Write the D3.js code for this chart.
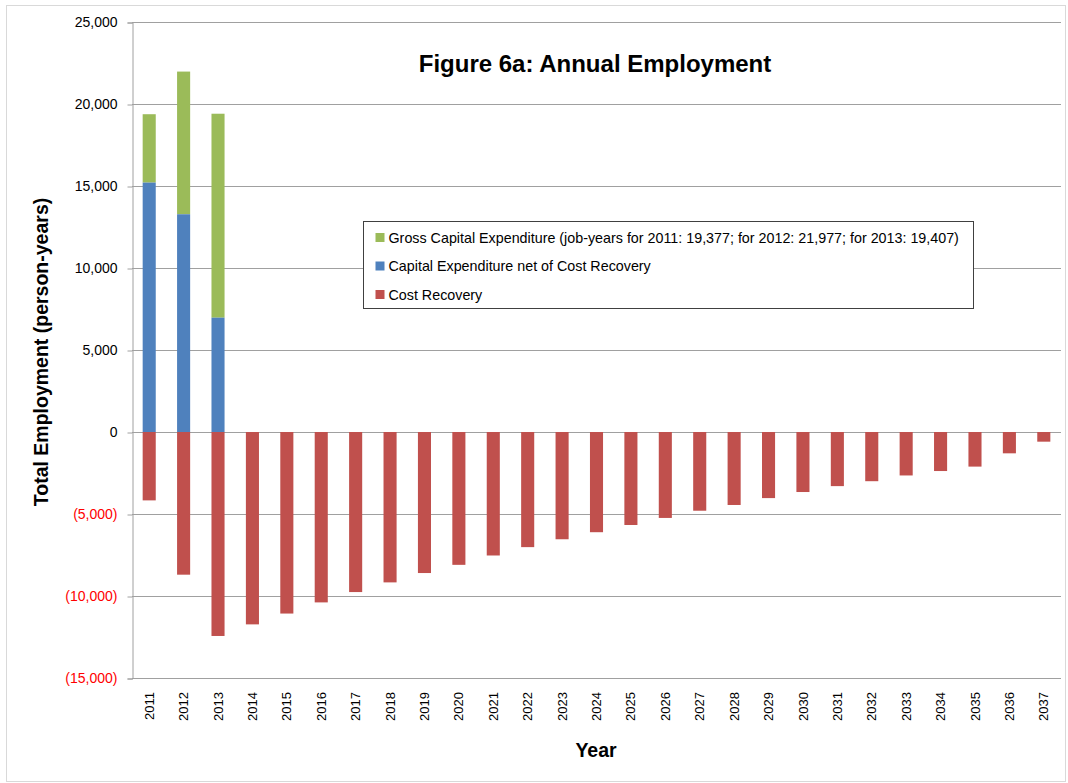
<!DOCTYPE html>
<html>
<head>
<meta charset="utf-8">
<script src="https://cdn.jsdelivr.net/npm/d3@7"></script>
<style>
  body { margin: 0; background: #fff; }
  svg { display: block; font-family: "Liberation Sans", Arial, sans-serif; }
</style>
</head>
<body>
<svg id="chart" width="1068" height="783"></svg>
<script>
// years on the x axis
const years = d3.range(2011, 2038).map(String);

// gross capital expenditure (only first three years)
const grossCapex = [19377, 21977, 19407];
// capital expenditure net of cost recovery
const netCapex = [15207, 13277, 6970];
// cost recovery (negative, all years)
const costRecovery = [
  -4170, -8700, -12437, -11730, -11070, -10390, -9760, -9170, -8600, -8100,
  -7530, -7020, -6540, -6110, -5670, -5240, -4800, -4450, -4030, -3660,
  -3300, -3000, -2650, -2380, -2110, -1300, -590
];

const yTicks = [25000, 20000, 15000, 10000, 5000, 0, -5000, -10000, -15000];

const legendItems = [
  { label: "Gross Capital Expenditure (job-years for 2011: 19,377; for 2012: 21,977; for 2013: 19,407)", color: "#9BBB59" },
  { label: "Capital Expenditure net of Cost Recovery", color: "#4F81BD" },
  { label: "Cost Recovery", color: "#C0504D" }
];

const svg = d3.select("#chart");
const margin = { top: 22, right: 7, bottom: 105, left: 132 };
const width = 1068, height = 783;

// outer frame
svg.append("rect")
  .attr("x", 6.5).attr("y", 5.5)
  .attr("width", 1059).attr("height", 776)
  .attr("fill", "#fff")
  .attr("stroke", "#d9d9d9");

const x = d3.scaleBand()
  .domain(years)
  .range([margin.left, width - margin.right])
  .paddingInner(0.62)
  .paddingOuter(0.31);

const y = d3.scaleLinear()
  .domain([-15000, 25000])
  .range([height - margin.bottom, margin.top]);

// gridlines
svg.append("g")
  .selectAll("line")
  .data(yTicks)
  .join("line")
  .attr("x1", margin.left)
  .attr("x2", width - margin.right)
  .attr("y1", d => Math.round(y(d)) + 0.5)
  .attr("y2", d => Math.round(y(d)) + 0.5)
  .attr("stroke", "#a0a0a0");

// y axis
const fmt = d => d < 0 ? `(${d3.format(",")(-d)})` : d3.format(",")(d);
const yAxis = svg.append("g")
  .attr("transform", `translate(${margin.left + 0.5},0.5)`)
  .call(d3.axisLeft(y).tickValues(yTicks).tickFormat(fmt).tickSize(5).tickPadding(10));
yAxis.select(".domain").attr("stroke", "#a0a0a0");
yAxis.selectAll(".tick line").attr("stroke", "#a0a0a0");
yAxis.selectAll(".tick text")
  .attr("font-size", 14)
  .attr("font-family", "Liberation Sans, Arial, sans-serif")
  .attr("fill", d => d < 0 ? "#ff0000" : "#000");

// x axis labels
const xAxis = svg.append("g")
  .attr("transform", `translate(0,${height - margin.bottom})`)
  .call(d3.axisBottom(x).tickSize(0).tickPadding(0));
xAxis.select(".domain").remove();
xAxis.selectAll(".tick text")
  .attr("font-size", 13)
  .attr("font-family", "Liberation Sans, Arial, sans-serif")
  .attr("fill", "#000")
  .attr("transform", "rotate(-90)")
  .attr("text-anchor", "end")
  .attr("x", -14)
  .attr("y", 0)
  .attr("dy", "0.35em");

// bars
const bars = svg.append("g");
// green: from net to gross
bars.selectAll(".gross")
  .data(grossCapex)
  .join("rect")
  .attr("class", "gross")
  .attr("x", (d, i) => x(years[i]))
  .attr("width", x.bandwidth())
  .attr("y", d => y(d))
  .attr("height", (d, i) => y(netCapex[i]) - y(d))
  .attr("fill", "#9BBB59");
// blue: from 0 to net
bars.selectAll(".net")
  .data(netCapex)
  .join("rect")
  .attr("class", "net")
  .attr("x", (d, i) => x(years[i]))
  .attr("width", x.bandwidth())
  .attr("y", d => y(d))
  .attr("height", d => y(0) - y(d))
  .attr("fill", "#4F81BD");
// red: cost recovery below 0
bars.selectAll(".rec")
  .data(costRecovery)
  .join("rect")
  .attr("class", "rec")
  .attr("x", (d, i) => x(years[i]))
  .attr("width", x.bandwidth())
  .attr("y", y(0))
  .attr("height", d => y(d) - y(0))
  .attr("fill", "#C0504D");

// title
svg.append("text")
  .attr("x", 595).attr("y", 72)
  .attr("text-anchor", "middle")
  .attr("font-size", 24)
  .attr("font-weight", "bold")
  .text("Figure 6a: Annual Employment");

// axis titles
svg.append("text")
  .attr("transform", "translate(48,352) rotate(-90)")
  .attr("text-anchor", "middle")
  .attr("font-size", 19.5)
  .attr("font-weight", "bold")
  .text("Total Employment (person-years)");

svg.append("text")
  .attr("x", 596).attr("y", 757)
  .attr("text-anchor", "middle")
  .attr("font-size", 19.5)
  .attr("font-weight", "bold")
  .text("Year");

// legend
const legend = svg.append("g").attr("transform", "translate(363.5,221.5)");
legend.append("rect")
  .attr("width", 610).attr("height", 87)
  .attr("fill", "#fff")
  .attr("stroke", "#404040");
legendItems.forEach((item, i) => {
  const row = legend.append("g").attr("transform", `translate(12,${16 + i * 28.5})`);
  row.append("rect")
    .attr("x", 0).attr("y", -4.5)
    .attr("width", 9).attr("height", 9)
    .attr("fill", item.color);
  row.append("text")
    .attr("x", 13).attr("dy", "0.35em")
    .attr("font-size", 14.3)
    .text(item.label);
});
</script>
</body>
</html>
